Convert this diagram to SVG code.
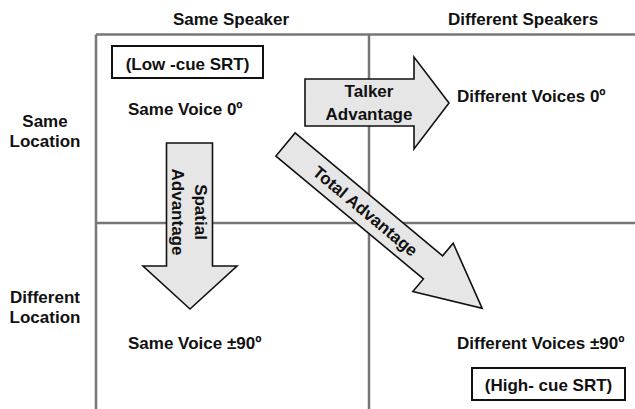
<svg xmlns="http://www.w3.org/2000/svg" width="635" height="409" viewBox="0 0 635 409">
<style>
text{font-family:"Liberation Sans",Arial,Helvetica,sans-serif;font-weight:bold;font-size:17px;fill:#111}
.grid{stroke:#777;stroke-width:2.5;fill:none}
.arrow{fill:#e6e6e6;stroke:#111;stroke-width:1.6;stroke-linejoin:miter}
.box{fill:#fff;stroke:#111;stroke-width:2}
.c{text-anchor:middle}
</style>
<rect width="635" height="409" fill="#fff"/>
<g id="grid">
<line class="grid" x1="96" y1="34.5" x2="635" y2="34.5"/>
<line class="grid" x1="96" y1="34.5" x2="96" y2="409"/>
<line class="grid" x1="369" y1="34.5" x2="369" y2="409"/>
<line class="grid" x1="96" y1="223" x2="635" y2="223"/>
</g>
<g id="headers">
<text class="c" x="231" y="25">Same Speaker</text>
<text class="c" x="523" y="25">Different Speakers</text>
<text class="c" x="45" y="127">Same</text>
<text class="c" x="45" y="147">Location</text>
<text class="c" x="45" y="303">Different</text>
<text class="c" x="45" y="323">Location</text>
</g>
<g id="low-cue">
<rect class="box" x="112" y="46" width="151" height="32"/>
<text class="c" x="187.5" y="70">(Low -cue SRT)</text>
</g>
<g id="same-voice-0">
<text x="128" y="115">Same Voice 0º</text>
</g>
<g id="diff-voices-0">
<text x="457" y="102">Different Voices 0º</text>
</g>
<g id="same-voice-90">
<text x="128" y="349">Same Voice ±90º</text>
</g>
<g id="diff-voices-90">
<text x="457" y="349">Different Voices ±90º</text>
</g>
<g id="high-cue">
<rect class="box" x="472" y="368" width="153" height="32"/>
<text class="c" x="548.5" y="391">(High- cue SRT)</text>
</g>
<g id="connectors">
<g id="talker-advantage">
<polygon class="arrow" points="305,79 414,79 414,57 449,103 414,149 414,126 305,126"/>
<text class="c" x="369" y="97">Talker</text>
<text class="c" x="369" y="120">Advantage</text>
</g>
<g id="spatial-advantage">
<polygon class="arrow" points="166.5,143 212.5,143 212.5,266 237,266 190,309 143,266 166.5,266"/>
<g transform="translate(190,212) rotate(90)">
<text class="c" x="0" y="-5">Spatial</text>
<text class="c" x="0" y="18">Advantage</text>
</g>
</g>
<g id="total-advantage" transform="translate(285.5,144.5) rotate(39.8)">
<polygon class="arrow" points="0,-15 192,-15 192,-31.5 256,0 192,31.5 192,15 0,15"/>
<text class="c" x="104" y="6">Total Advantage</text>
</g>
</g>
</svg>
